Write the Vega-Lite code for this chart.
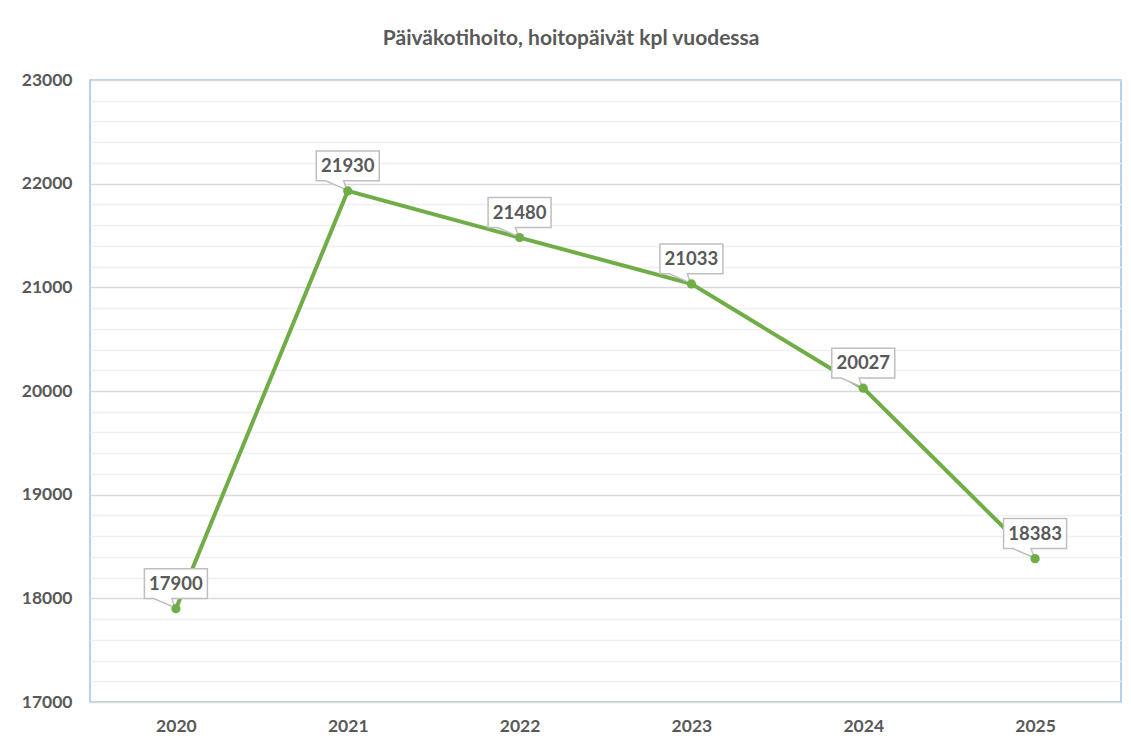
{
  "$schema": "https://vega.github.io/schema/vega-lite/v6.json",
  "autosize": "none",
  "width": 1031,
  "height": 622,
  "padding": {"left": 90, "top": 80, "right": 10, "bottom": 42},
  "background": "white",
  "title": {
    "text": "Päiväkotihoito, hoitopäivät kpl vuodessa",
    "anchor": "middle",
    "frame": "bounds",
    "font": "Lato",
    "fontSize": 21,
    "fontWeight": "bold",
    "color": "#595959",
    "offset": 22
  },
  "config": {
    "view": {"stroke": "#9DC3E6", "strokeWidth": 1.5},
    "font": "Lato"
  },
  "data": {
    "values": [
      {"year": "2020", "value": 17900},
      {"year": "2021", "value": 21930},
      {"year": "2022", "value": 21480},
      {"year": "2023", "value": 21033},
      {"year": "2024", "value": 20027},
      {"year": "2025", "value": 18383}
    ]
  },
  "encoding": {
    "x": {
      "field": "year",
      "type": "ordinal",
      "scale": {"type": "point", "padding": 0.5},
      "axis": {
        "title": null,
        "labelAngle": 0,
        "ticks": false,
        "domain": false,
        "labelFont": "Lato",
        "labelFontSize": 17.5,
        "labelFontWeight": "bold",
        "labelColor": "#595959",
        "labelPadding": 15
      }
    },
    "y": {
      "field": "value",
      "type": "quantitative",
      "scale": {"domain": [17000, 23000], "nice": false, "zero": false},
      "axis": {
        "title": null,
        "values": [17000, 17200, 17400, 17600, 17800, 18000, 18200, 18400, 18600, 18800, 19000, 19200, 19400, 19600, 19800, 20000, 20200, 20400, 20600, 20800, 21000, 21200, 21400, 21600, 21800, 22000, 22200, 22400, 22600, 22800, 23000],
        "labelExpr": "datum.value % 1000 === 0 ? datum.value : ''",
        "ticks": false,
        "domain": false,
        "grid": true,
        "gridColor": {"condition": {"test": "datum.value % 1000 === 0", "value": "#D9D9D9"}, "value": "#F0F0F0"},
        "gridWidth": 1.3,
        "labelFont": "Lato",
        "labelFontSize": 17.5,
        "labelFontWeight": "bold",
        "labelColor": "#595959",
        "labelPadding": 18
      }
    }
  },
  "layer": [
    {
      "mark": {"type": "line", "color": "#70AD47", "strokeWidth": 4}
    },
    {
      "mark": {
        "type": "point",
        "shape": "M-1,-1.27 L1,-1.27 L1,-0.32 L-0.13,-0.32 L-0.03,-0.03 L-0.7,-0.32 L-1,-0.32 Z",
        "size": 3969,
        "filled": true,
        "fill": "white",
        "fillOpacity": 1,
        "stroke": "#BFBFBF",
        "strokeWidth": 1.5,
        "opacity": 1
      }
    },
    {
      "mark": {
        "type": "point",
        "shape": "circle",
        "size": 85,
        "filled": true,
        "color": "#70AD47",
        "opacity": 1
      }
    },
    {
      "mark": {
        "type": "text",
        "dy": -25,
        "baseline": "middle",
        "align": "center",
        "font": "Lato",
        "fontSize": 18.5,
        "fontWeight": "bold",
        "color": "#595959"
      },
      "encoding": {"text": {"field": "value", "type": "quantitative", "format": "d"}}
    }
  ]
}
